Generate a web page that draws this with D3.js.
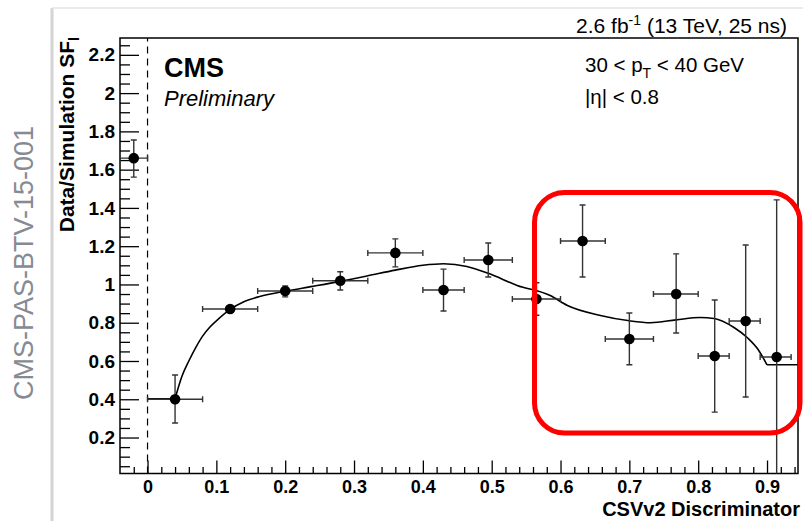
<!DOCTYPE html>
<html>
<head>
<meta charset="utf-8">
<script src="https://cdn.jsdelivr.net/npm/d3@7"></script>
<style>
  body { margin: 0; background: #fff; }
  text { font-family: "Liberation Sans", Arial, Helvetica, sans-serif; }
</style>
</head>
<body>
<div id="chart"></div>
<script>
// measured scale factors per discriminator bin
const binLo   = [-0.04, 0.00, 0.08, 0.16, 0.24, 0.32, 0.40, 0.46, 0.53, 0.60, 0.665, 0.735, 0.80, 0.845, 0.89];
const binHi   = [ 0.00, 0.08, 0.16, 0.24, 0.32, 0.40, 0.46, 0.53, 0.60, 0.665, 0.735, 0.80, 0.845, 0.89, 0.935];
const binX    = [-0.02, 0.04, 0.12, 0.20, 0.28, 0.36, 0.43, 0.495, 0.565, 0.632, 0.70, 0.768, 0.824, 0.869, 0.914];
const sfValue = [1.66, 0.40, 0.872, 0.966, 1.019, 1.165, 0.971, 1.128, 0.924, 1.227, 0.715, 0.95, 0.626, 0.809, 0.621];
const errUp   = [0.095, 0.127, 0.012, 0.026, 0.047, 0.073, 0.109, 0.089, 0.085, 0.188, 0.136, 0.21, 0.293, 0.397, 0.821];
const errDown = [0.099, 0.124, 0.012, 0.031, 0.048, 0.073, 0.110, 0.089, 0.085, 0.188, 0.135, 0.204, 0.293, 0.397, 0.821];

// fitted curve
const fitX = [0.04, 0.05, 0.06, 0.07, 0.08, 0.09, 0.10, 0.12, 0.14, 0.163, 0.20, 0.24, 0.28, 0.32, 0.36, 0.40, 0.43, 0.464, 0.495, 0.537, 0.585, 0.61, 0.658, 0.70, 0.731, 0.768, 0.803, 0.823, 0.852, 0.872, 0.886, 0.90];
const fitY = [0.403, 0.52, 0.60, 0.67, 0.73, 0.775, 0.81, 0.87, 0.91, 0.937, 0.965, 0.99, 1.016, 1.045, 1.075, 1.10, 1.108, 1.094, 1.058, 0.995, 0.942, 0.89, 0.838, 0.81, 0.80, 0.815, 0.827, 0.822, 0.775, 0.72, 0.665, 0.58];
const fitLowStart = 0.0, fitLowLevel = 0.403;
const fitHighEnd = 0.945, fitHighLevel = 0.58;

const xTicks = [0, 0.1, 0.2, 0.3, 0.4, 0.5, 0.6, 0.7, 0.8, 0.9];
const xTickLabels = ["0", "0.1", "0.2", "0.3", "0.4", "0.5", "0.6", "0.7", "0.8", "0.9"];
const yTicks = [0.2, 0.4, 0.6, 0.8, 1.0, 1.2, 1.4, 1.6, 1.8, 2.0, 2.2];
const yTickLabels = ["0.2", "0.4", "0.6", "0.8", "1", "1.2", "1.4", "1.6", "1.8", "2", "2.2"];

const width = 803, height = 521;
const frame = { left: 120, right: 798, top: 38, bottom: 473.5 };

const svg = d3.select("#chart").append("svg")
  .attr("width", width)
  .attr("height", height);

// page panel edge (left shadow + top border)
svg.append("line").attr("x1", 52).attr("x2", 52).attr("y1", 8).attr("y2", height)
  .attr("stroke", "#d4d4d4").attr("stroke-width", 3);
svg.append("line").attr("x1", 52).attr("x2", width).attr("y1", 8).attr("y2", 8)
  .attr("stroke", "#e4e4e4").attr("stroke-width", 1.5);

// document id on the side
svg.append("text")
  .attr("transform", "translate(33,263) rotate(-90)")
  .attr("text-anchor", "middle")
  .attr("font-size", 27)
  .attr("fill", "#868b93")
  .text("CMS-PAS-BTV-15-001");

const x = d3.scaleLinear().domain([-0.04, 0.945]).range([frame.left, frame.right]);
const y = d3.scaleLinear().domain([0.012, 2.288]).range([frame.bottom, frame.top]);

svg.append("clipPath").attr("id", "clip")
  .append("rect")
  .attr("x", frame.left).attr("y", frame.top)
  .attr("width", frame.right - frame.left).attr("height", frame.bottom - frame.top);

// minor ticks
const xMinor = d3.range(-0.02, 0.945, 0.02).filter(v => Math.abs(v * 10 - Math.round(v * 10)) > 1e-6);
const yMinor = d3.range(0.05, 2.28, 0.05).filter(v => Math.abs(v * 5 - Math.round(v * 5)) > 1e-6);

svg.append("g")
  .attr("transform", `translate(0,${frame.bottom})`)
  .call(d3.axisBottom(x).tickValues(xMinor).tickSize(-6.5).tickFormat(""))
  .call(g => g.select(".domain").remove());

svg.append("g")
  .attr("transform", `translate(${frame.left},0)`)
  .call(d3.axisLeft(y).tickValues(yMinor).tickSize(-10).tickFormat(""))
  .call(g => g.select(".domain").remove());

// major ticks with labels
svg.append("g")
  .attr("transform", `translate(0,${frame.bottom})`)
  .call(d3.axisBottom(x).tickValues(xTicks).tickSize(-13).tickPadding(6.5)
    .tickFormat((d, i) => xTickLabels[i]))
  .call(g => g.select(".domain").remove())
  .call(g => g.selectAll("text").attr("font-size", 18).attr("font-weight", "bold")
    .attr("fill", "#000").style("font-family", "'Liberation Sans', Arial, sans-serif"));

svg.append("g")
  .attr("transform", `translate(${frame.left},0)`)
  .call(d3.axisLeft(y).tickValues(yTicks).tickSize(-19).tickPadding(5)
    .tickFormat((d, i) => yTickLabels[i]))
  .call(g => g.select(".domain").remove())
  .call(g => g.selectAll("text").attr("font-size", 19).attr("font-weight", "bold")
    .attr("fill", "#000").style("font-family", "'Liberation Sans', Arial, sans-serif"));

svg.selectAll(".tick line").attr("stroke", "#000").attr("stroke-width", 1.3);

// frame
svg.append("rect")
  .attr("x", frame.left).attr("y", frame.top)
  .attr("width", frame.right - frame.left).attr("height", frame.bottom - frame.top)
  .attr("fill", "none").attr("stroke", "#000").attr("stroke-width", 1.5);

const plot = svg.append("g").attr("clip-path", "url(#clip)");

// dashed line at zero
plot.append("line")
  .attr("x1", x(0)).attr("x2", x(0))
  .attr("y1", frame.bottom).attr("y2", frame.top)
  .attr("stroke", "#000").attr("stroke-width", 1.2)
  .attr("stroke-dasharray", "7,5");

// fit
const fitPts = fitX.map((v, i) => [v, fitY[i]]);
const curve = d3.line().x(d => x(d[0])).y(d => y(d[1])).curve(d3.curveMonotoneX);
plot.append("path")
  .attr("d", `M${x(fitLowStart)},${y(fitLowLevel)}L${x(fitX[0])},${y(fitLowLevel)}`)
  .attr("fill", "none").attr("stroke", "#000").attr("stroke-width", 1.6);
plot.append("path")
  .attr("d", curve(fitPts))
  .attr("fill", "none").attr("stroke", "#000").attr("stroke-width", 1.6);
plot.append("path")
  .attr("d", `M${x(fitX[fitX.length - 1])},${y(fitHighLevel)}L${x(fitHighEnd)},${y(fitHighLevel)}`)
  .attr("fill", "none").attr("stroke", "#000").attr("stroke-width", 1.6);

// error bars and markers
const pts = binX.map((v, i) => ({
  x: v, lo: binLo[i], hi: binHi[i], v: sfValue[i], up: errUp[i], dn: errDown[i]
}));
const cap = 3;
const eb = plot.append("g").attr("stroke", "#333").attr("stroke-width", 1.4);
pts.forEach(p => {
  const cy = y(p.v), cx = x(p.x);
  eb.append("line").attr("x1", x(p.lo)).attr("x2", x(p.hi)).attr("y1", cy).attr("y2", cy);
  eb.append("line").attr("x1", x(p.lo)).attr("x2", x(p.lo)).attr("y1", cy - cap).attr("y2", cy + cap);
  eb.append("line").attr("x1", x(p.hi)).attr("x2", x(p.hi)).attr("y1", cy - cap).attr("y2", cy + cap);
  const yt = y(p.v + p.up), yb = y(p.v - p.dn);
  eb.append("line").attr("x1", cx).attr("x2", cx).attr("y1", yt).attr("y2", yb);
  eb.append("line").attr("x1", cx - cap).attr("x2", cx + cap).attr("y1", yt).attr("y2", yt);
  eb.append("line").attr("x1", cx - cap).attr("x2", cx + cap).attr("y1", yb).attr("y2", yb);
});
plot.selectAll("circle.pt").data(pts).enter().append("circle")
  .attr("class", "pt")
  .attr("cx", d => x(d.x)).attr("cy", d => y(d.v))
  .attr("r", 5.3).attr("fill", "#000");

// labels
svg.append("text").attr("x", 164).attr("y", 77)
  .attr("font-size", 27).attr("font-weight", "bold").text("CMS");
svg.append("text").attr("x", 164).attr("y", 106)
  .attr("font-size", 22).attr("font-style", "italic").text("Preliminary");

const lumi = svg.append("text").attr("x", 787).attr("y", 33)
  .attr("text-anchor", "end").attr("font-size", 21);
lumi.append("tspan").text("2.6 fb");
lumi.append("tspan").attr("font-size", 14).attr("dy", -8).text("-1");
lumi.append("tspan").attr("dy", 8).text(" (13 TeV, 25 ns)");

const pt = svg.append("text").attr("x", 585).attr("y", 72).attr("font-size", 20.5);
pt.append("tspan").text("30 < p");
pt.append("tspan").attr("font-size", 14).attr("dy", 6).text("T");
pt.append("tspan").attr("dy", -6).text(" < 40 GeV");

svg.append("text").attr("x", 585).attr("y", 104).attr("font-size", 20.5).text("|\u03b7| < 0.8");

svg.append("text").attr("x", 800).attr("y", 516)
  .attr("text-anchor", "end").attr("font-size", 20).attr("font-weight", "bold")
  .text("CSVv2 Discriminator");

const yTitle = svg.append("text")
  .attr("transform", "translate(74,37) rotate(-90)")
  .attr("text-anchor", "end").attr("font-size", 21).attr("font-weight", "bold");
yTitle.append("tspan").text("Data/Simulation SF");
yTitle.append("tspan").attr("font-size", 14).attr("dy", 5).text("l");

// highlight box
svg.append("rect")
  .attr("x", 534.5).attr("y", 192.5)
  .attr("width", 265.5).attr("height", 240.5)
  .attr("rx", 30).attr("ry", 30)
  .attr("fill", "none").attr("stroke", "#ff0000").attr("stroke-width", 5);
</script>
</body>
</html>
